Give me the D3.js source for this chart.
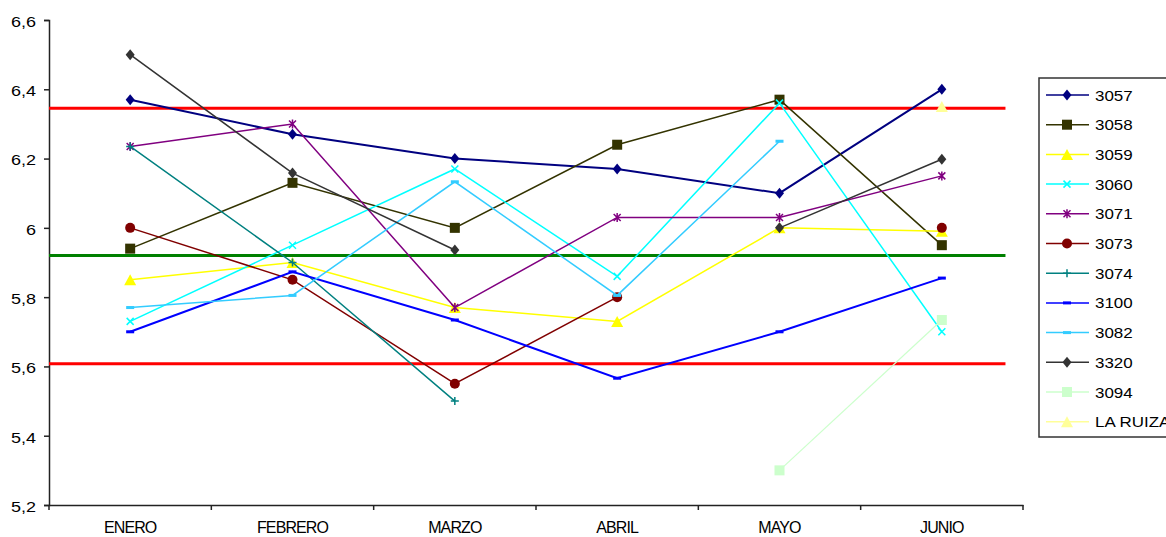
<!DOCTYPE html>
<html><head><meta charset="utf-8">
<script src="https://cdn.jsdelivr.net/npm/d3@7"></script>
<style>body{margin:0;background:#fff;}svg{display:block;font-family:"Liberation Sans",Arial,sans-serif;}</style>
</head><body><svg id="c" width="1166" height="537"></svg>
<script>
const months = ["ENERO","FEBRERO","MARZO","ABRIL","MAYO","JUNIO"];
const yTicks = [5.2,5.4,5.6,5.8,6.0,6.2,6.4,6.6];
const seriesNames = ["3057","3058","3059","3060","3071","3073","3074","3100","3082","3320","3094","LA RUIZA"];
const s3057 = [6.37,6.27,6.20,6.17,6.10,6.40];
const s3058 = [5.94,6.13,6.00,6.24,6.37,5.95];
const s3059 = [5.85,5.90,5.77,5.73,6.00,5.99];
const s3060 = [5.73,5.95,6.17,5.86,6.36,5.70];
const s3071 = [6.235,6.30,5.77,6.03,6.03,6.15];
const s3073 = [6.00,5.85,5.55,5.80,null,6.00];
const s3074 = [6.235,5.90,5.50,null,null,null];
const s3100 = [5.70,5.873,5.734,5.566,5.70,5.855];
const s3082 = [5.77,5.805,6.133,5.805,6.25,null];
const s3320 = [6.50,6.158,5.936,null,6.00,6.198];
const s3094 = [null,null,null,null,5.30,5.734];
const sRuiza = [null,null,null,null,null,6.35];
const redLimits = [6.345,5.608];
const greenMean = [5.92];

const values = [s3057,s3058,s3059,s3060,s3071,s3073,s3074,s3100,s3082,s3320,s3094,sRuiza];
const colors = ["#000080","#333300","#FFFF00","#00FFFF","#800080","#800000","#008080","#0000FF","#33CCFF","#333333","#CCFFCC","#FFFF99"];
const markers = ["diamond","square","triangle","x","star","circle","plus","bar","bar","diamond","square","triangle"];
const widths = [2,1.5,1.5,1.5,1.5,1.5,1.5,2,1.5,1.5,1.2,1.5];

const svg = d3.select("#c");
const pL = 49, pR = 1023, pT = 20, pB = 505;
const x = d3.scalePoint().domain(months).range([pL,pR]).padding(0.5);
const y = d3.scaleLinear().domain([5.2,6.6]).range([pB,pT]);
const fmt = v => d3.format(".1~f")(v).replace(".",",");
function stretch(sel, k){
  sel.each(function(){
    const w = this.getComputedTextLength();
    d3.select(this).attr("textLength", w*k).attr("lengthAdjust","spacingAndGlyphs");
  });
}

// axes
const yAxis = svg.append("g").attr("transform",`translate(${pL},0)`)
  .call(d3.axisLeft(y).tickValues(yTicks).tickFormat(fmt).tickSize(5).tickPadding(8));
yAxis.select(".domain").attr("stroke","#222").attr("stroke-width",1.5);
yAxis.selectAll(".tick line").attr("stroke","#222").attr("stroke-width",1.5);
yAxis.selectAll("text").attr("font-size",15).attr("fill","#000").attr("dy","0.42em")
  .attr("font-family","'Liberation Sans',Arial,sans-serif");
stretch(yAxis.selectAll("text"),1.2);

const xb = d3.scaleBand().domain(months).range([pL,pR]);
const xAxis = svg.append("g").attr("transform",`translate(0,${pB})`)
  .call(d3.axisBottom(xb).tickSize(0).tickPadding(16.5));
xAxis.select(".domain").attr("stroke","#222").attr("stroke-width",1.5);
xAxis.selectAll("text").attr("font-size",16).attr("fill","#000").attr("letter-spacing","-0.9px")
  .attr("font-family","'Liberation Sans',Arial,sans-serif");
// category boundary ticks
const bounds = months.map(m=>xb(m)).concat([pR]);
svg.append("g").selectAll("line").data(bounds).join("line")
  .attr("x1",d=>d).attr("x2",d=>d).attr("y1",pB).attr("y2",pB+5)
  .attr("stroke","#222").attr("stroke-width",1.5);

// reference lines
const refEnd = pL + (pR-pL)*0.982;
svg.append("g").selectAll("line").data(redLimits).join("line")
  .attr("x1",pL).attr("x2",refEnd).attr("y1",d=>y(d)).attr("y2",d=>y(d))
  .attr("stroke","#FF0000").attr("stroke-width",3);
svg.append("g").selectAll("line").data(greenMean).join("line")
  .attr("x1",pL).attr("x2",refEnd).attr("y1",d=>y(d)).attr("y2",d=>y(d))
  .attr("stroke","#008000").attr("stroke-width",3);

function drawMarker(g, type, cx, cy, color, s){
  s = s||1;
  if(type==="diamond"){
    g.append("path").attr("d",`M${cx},${cy-5.5*s}L${cx+4.5*s},${cy}L${cx},${cy+5.5*s}L${cx-4.5*s},${cy}Z`).attr("fill",color);
  } else if(type==="square"){
    g.append("rect").attr("x",cx-5*s).attr("y",cy-5*s).attr("width",10*s).attr("height",10*s).attr("fill",color);
  } else if(type==="triangle"){
    g.append("path").attr("d",`M${cx},${cy-5.5*s}L${cx+6*s},${cy+5.5*s}L${cx-6*s},${cy+5.5*s}Z`).attr("fill",color);
  } else if(type==="x"){
    g.append("path").attr("d",`M${cx-3.5},${cy-3.5}L${cx+3.5},${cy+3.5}M${cx-3.5},${cy+3.5}L${cx+3.5},${cy-3.5}`).attr("stroke",color).attr("stroke-width",1.5);
  } else if(type==="star"){
    g.append("path").attr("d",`M${cx-3.5},${cy-3.5}L${cx+3.5},${cy+3.5}M${cx-3.5},${cy+3.5}L${cx+3.5},${cy-3.5}M${cx},${cy-4.5}L${cx},${cy+4.5}`).attr("stroke",color).attr("stroke-width",1.5);
  } else if(type==="circle"){
    g.append("circle").attr("cx",cx).attr("cy",cy).attr("r",5).attr("fill",color);
  } else if(type==="plus"){
    g.append("path").attr("d",`M${cx-4},${cy}L${cx+4},${cy}M${cx},${cy-4}L${cx},${cy+4}`).attr("stroke",color).attr("stroke-width",1.5);
  } else if(type==="bar"){
    g.append("rect").attr("x",cx-4).attr("y",cy-1.5).attr("width",8).attr("height",3).attr("fill",color);
  }
}

// series
const line = d3.line().defined(d=>d.v!=null).x(d=>x(d.m)).y(d=>y(d.v));
seriesNames.forEach((name,i)=>{
  const data = months.map((m,j)=>({m, v: values[i][j]}));
  const g = svg.append("g");
  g.append("path").attr("d",line(data)).attr("fill","none").attr("stroke",colors[i]).attr("stroke-width",widths[i]);
  data.filter(d=>d.v!=null).forEach(d=>drawMarker(g,markers[i],x(d.m),y(d.v),colors[i]));
});

// legend
const lg = svg.append("g");
lg.append("rect").attr("x",1039).attr("y",78).attr("width",140).attr("height",359)
  .attr("fill","#fff").attr("stroke","#333").attr("stroke-width",1.5);
seriesNames.forEach((name,i)=>{
  const ly = 95 + i*29.7;
  lg.append("line").attr("x1",1046).attr("x2",1089).attr("y1",ly).attr("y2",ly).attr("stroke",colors[i]).attr("stroke-width",1.5);
  drawMarker(lg,markers[i],1067,ly,colors[i]);
  lg.append("text").attr("x",1095).attr("y",ly+5.5).attr("font-size",15).text(name);
});
stretch(lg.selectAll("text"),1.13);
</script></body></html>
